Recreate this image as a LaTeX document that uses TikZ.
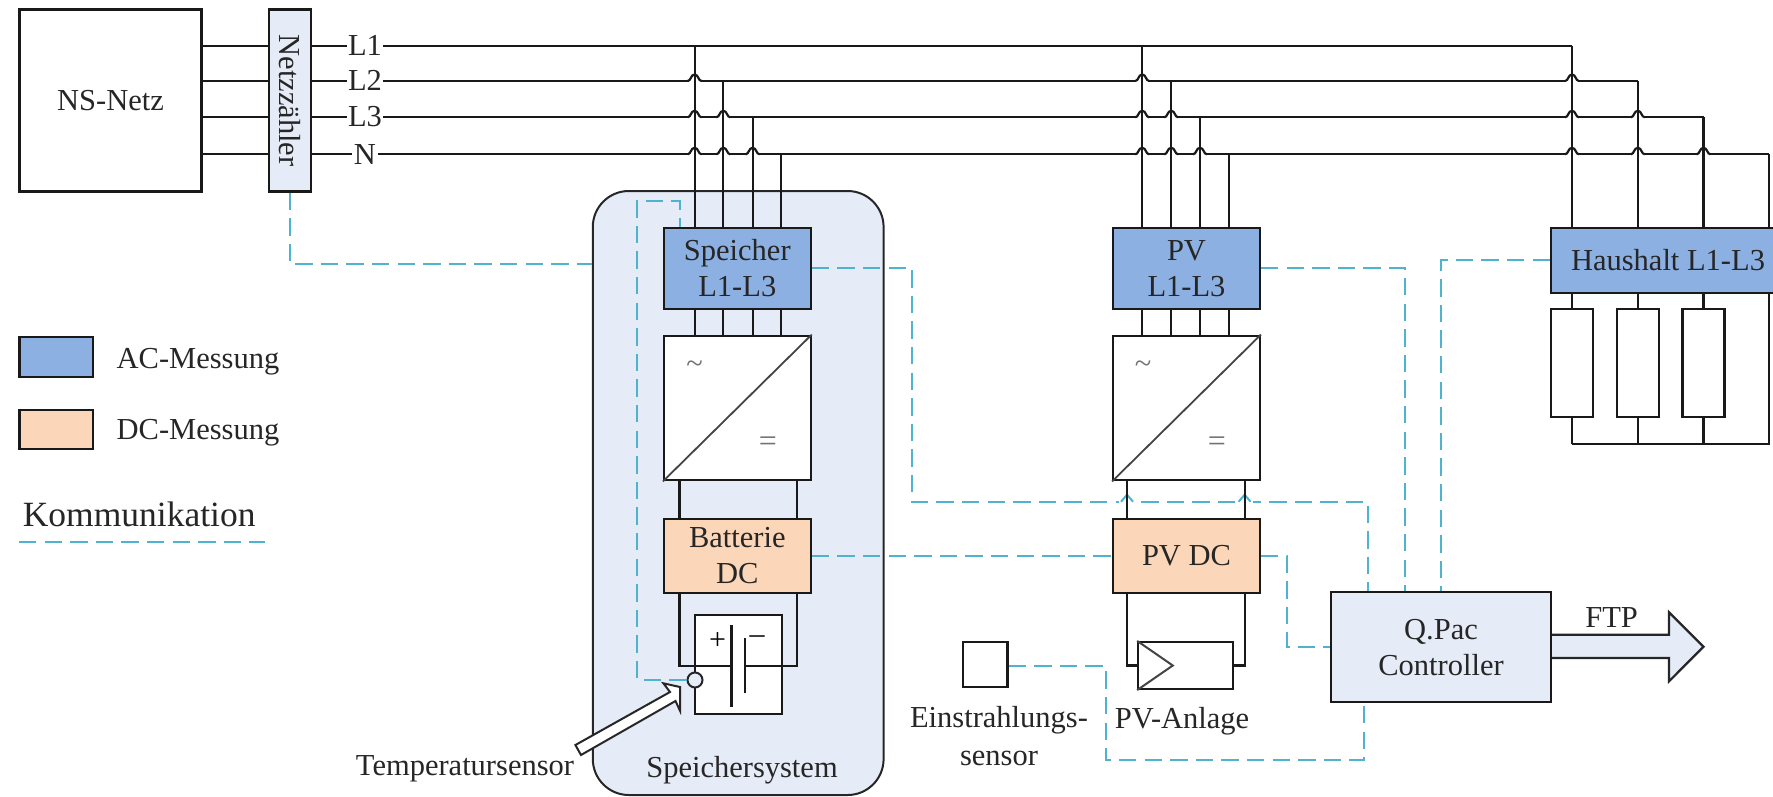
\documentclass[tikz,border=0pt]{standalone}
\usepackage{fontspec}
\setmainfont{Liberation Serif}
\definecolor{acblue}{HTML}{8DB0E3}
\definecolor{dcpeach}{HTML}{FBD6B8}
\definecolor{lightbg}{HTML}{E6ECF7}
\definecolor{comm}{HTML}{4FB3CF}
\definecolor{grayline}{HTML}{444444}
\tikzset{
  txt/.style={font=\fontsize{30.5}{36}\selectfont,inner sep=0pt,align=center,text=black!85},
  bx/.style={draw=black!90,line width=2.2pt,txt,rectangle},
  acbox/.style={bx,fill=acblue},
  dcbox/.style={bx,fill=dcpeach},
  lightbox/.style={bx,fill=lightbg},
  whitebox/.style={bx,fill=white},
  wire/.style={draw=black!90,line width=2.2pt},
  commline/.style={draw=comm,line width=2pt,dash pattern=on 17.4pt off 8.2pt},
  phase/.style={txt,fill=white,inner xsep=1.5pt,inner ysep=0pt},
  symb/.style={txt,text=black!55},
  hopk/.pic={
    \draw[white,line width=3.5pt] (-6,0)--(6,0);
    \draw[black!90,line width=2.2pt] (-7,0) .. controls (-3.5,0) and (-4,-6.5) .. (0,-6.5) .. controls (4,-6.5) and (3.5,0) .. (7,0);
  },
  hopc/.pic={
    \draw[white,line width=3.5pt] (-8,0)--(8,0);
    \draw[comm,line width=2pt] (-6,0) -- (0,-7) -- (6,0);
  },
}
\begin{document}
\begin{tikzpicture}[x=1pt,y=-1pt]
\useasboundingbox (0,0) rectangle (1773,796);
% rows and columns
\coordinate (yL1) at (0,46.3);
\coordinate (yL2) at (0,81);
\coordinate (yL3) at (0,117.3);
\coordinate (yN) at (0,154.3);
\coordinate (xS1) at (694.6,0);
\coordinate (xS2) at (723.3,0);
\coordinate (xS3) at (752.6,0);
\coordinate (xS4) at (781.3,0);
\coordinate (xP1) at (1142.2,0);
\coordinate (xP2) at (1171.2,0);
\coordinate (xP3) at (1200,0);
\coordinate (xP4) at (1229,0);
\coordinate (xH1) at (1572,0);
\coordinate (xH2) at (1637.8,0);
\coordinate (xH3) at (1703.5,0);
\coordinate (xH4) at (1769,0);
\coordinate (xBl) at (679.5,0);
\coordinate (xBr) at (797,0);
\coordinate (xVl) at (1127,0);
\coordinate (xVr) at (1244.6,0);
% storage system background
\node[draw=black!85,line width=2pt,fill=lightbg,rounded corners=36pt,minimum width=290.8pt,minimum height=604pt,inner sep=0pt] (sys) at (738.2,493) {};
% boxes
\node[whitebox,minimum width=182pt,minimum height=182pt] (ns) at (110.5,100.5) {NS-Netz};
\node[acbox,minimum width=146.6pt,minimum height=81.3pt] (sp) at (737.3,268.3) {Speicher\\L1-L3};
\node[acbox,minimum width=146.6pt,minimum height=81.3pt] (pv) at (1186.5,268.3) {PV\\L1-L3};
\node[acbox,minimum width=234pt,minimum height=65.6pt] (ha) at (1668,260.5) {Haushalt L1-L3};
\node[whitebox,minimum width=146.6pt,minimum height=144.6pt] (cs) at (737.3,408) {};
\node[whitebox,minimum width=146.6pt,minimum height=144.6pt] (cp) at (1186.5,408) {};
\node[dcbox,minimum width=146.9pt,minimum height=73.4pt] (bd) at (737.3,556) {Batterie\\DC};
\node[dcbox,minimum width=146.6pt,minimum height=73.4pt] (pd) at (1186.5,556) {PV DC};
\node[whitebox,minimum width=87.2pt,minimum height=99pt] (bat) at (738.4,664.8) {};
\node[whitebox,minimum width=94.7pt,minimum height=47pt] (pan) at (1185.6,665.5) {};
\node[whitebox,minimum width=44.5pt,minimum height=45.3pt] (ir) at (985.2,664.6) {};
\node[lightbox,minimum width=220pt,minimum height=110.3pt] (qp) at (1441,647.1) {Q.Pac\\Controller};
% resistors
\node[whitebox,minimum width=42pt,minimum height=108.3pt] (r1) at (1572,362.8) {};
\node[whitebox,minimum width=42pt,minimum height=108.3pt] (r2) at (1637.8,362.8) {};
\node[whitebox,minimum width=42pt,minimum height=108.3pt] (r3) at (1703.5,362.8) {};
\coordinate (yBus) at (0,444);
% communication lines
\coordinate (yNet) at (0,264);
\coordinate (xIn) at (637,0);
\coordinate (yIn) at (0,200.7);
\coordinate (xInTop) at (680,0);
\coordinate (ySp) at (0,268);
\coordinate (xSp) at (912,0);
\coordinate (ySpL) at (0,501.7);
\coordinate (xQ1) at (1367.7,0);
\coordinate (xQ2) at (1404.5,0);
\coordinate (xQ3) at (1441,0);
\coordinate (yHa) at (0,260);
\coordinate (xPdc) at (1287,0);
\coordinate (xQb) at (1363.8,0);
\coordinate (yQb) at (0,760.3);
\coordinate (xIr) at (1105.5,0);
\coordinate (yIr) at (0,666);
\node[draw=black!85,line width=2pt,fill=lightbg,circle,minimum size=15pt,inner sep=0pt] (ts) at (695,680) {};
\draw[commline] (ts.west) -| (xIn |- yIn) -| (xInTop |- sp.north);
\draw[commline] (sp.east |- ySp) -| (xSp |- ySpL) -| (xQ1 |- qp.north);
\draw[commline] (pv.east |- ySp) -| (xQ2 |- qp.north);
\draw[commline] (ha.west |- yHa) -| (xQ3 |- qp.north);
\draw[commline] (bd.east) -- (pd.west);
\draw[commline] (pd.east) -| (xPdc |- qp.west) -- (qp.west);
\draw[commline] (ir.east |- yIr) -| (xIr |- yQb) -| (xQb |- qp.south);
\foreach \a in {xVl,xVr} \pic at (\a |- ySpL) {hopc};
% mains buses
\draw[wire] (ns.east |- yL1) -- (xH1 |- yL1);
\draw[wire] (ns.east |- yL2) -- (xH2 |- yL2);
\draw[wire] (ns.east |- yL3) -- (xH3 |- yL3);
\draw[wire] (ns.east |- yN) -- (xH4 |- yN);
\foreach \a/\b in {xS1/yL2,xS1/yL3,xS1/yN,xS2/yL3,xS2/yN,xS3/yN,
                   xP1/yL2,xP1/yL3,xP1/yN,xP2/yL3,xP2/yN,xP3/yN,
                   xH1/yL2,xH1/yL3,xH1/yN,xH2/yL3,xH2/yN,xH3/yN}
  \pic at (\a |- \b) {hopk};
% grid meter sits on top of the buses
\node[lightbox,minimum width=42.4pt,minimum height=182pt] (nz) at (289.8,100.5) {\rotatebox{-90}{Netzzähler}};
\draw[commline] (nz.south) |- (sys.west |- yNet);
% drops from bus to meters
\draw[wire] (xS1 |- yL1) -- (xS1 |- sp.north);
\draw[wire] (xS2 |- yL2) -- (xS2 |- sp.north);
\draw[wire] (xS3 |- yL3) -- (xS3 |- sp.north);
\draw[wire] (xS4 |- yN) -- (xS4 |- sp.north);
\draw[wire] (xP1 |- yL1) -- (xP1 |- pv.north);
\draw[wire] (xP2 |- yL2) -- (xP2 |- pv.north);
\draw[wire] (xP3 |- yL3) -- (xP3 |- pv.north);
\draw[wire] (xP4 |- yN) -- (xP4 |- pv.north);
\draw[wire] (xH1 |- yL1) -- (xH1 |- ha.north);
\draw[wire] (xH2 |- yL2) -- (xH2 |- ha.north);
\draw[wire] (xH3 |- yL3) -- (xH3 |- ha.north);
\draw[wire] (xH4 |- yN) -- (xH4 |- ha.north);
% meter to converter
\foreach \a in {xS1,xS2,xS3,xS4} \draw[wire] (\a |- sp.south) -- (\a |- cs.north);
\foreach \a in {xP1,xP2,xP3,xP4} \draw[wire] (\a |- pv.south) -- (\a |- cp.north);
% converter symbols
\draw[grayline,line width=1.8pt] (cs.south west) -- (cs.north east);
\draw[grayline,line width=1.8pt] (cp.south west) -- (cp.north east);
\node[symb] (cs1) at (694.6,367) {\char`\~};
\node[symb] (cp1) at (1143,367) {\char`\~};
\node[symb,font=\fontsize{32}{34}\selectfont] (cs2) at (767.8,444) {=};
\node[symb,font=\fontsize{32}{34}\selectfont] (cp2) at (1216.8,444) {=};
% DC links
\foreach \a in {xBl,xBr} \draw[wire] (\a |- cs.south) -- (\a |- bd.north);
\foreach \a in {xVl,xVr} \draw[wire] (\a |- cp.south) -- (\a |- pd.north);
% battery
\coordinate (yLoop) at (0,666);
\coordinate (xP) at (731.5,0);
\coordinate (xM) at (745,0);
\coordinate (yPa) at (0,625);
\coordinate (yPb) at (0,706.7);
\coordinate (yMa) at (0,638);
\coordinate (yMb) at (0,693);
\draw[wire] (xBl |- bd.south) |- (xP |- yLoop);
\draw[wire] (xBr |- bd.south) |- (xM |- yLoop);
\draw[wire] (xP |- yPa) -- (xP |- yPb);
\draw[wire] (xM |- yMa) -- (xM |- yMb);
\node[txt,font=\fontsize{30}{30}\selectfont,text=black] (plus) at (717.7,641) {+};
\node[txt,font=\fontsize{30}{30}\selectfont,text=black] (minus) at (757,640) {–};
% PV panel
\draw[wire] (xVl |- pd.south) |- (pan.west);
\draw[wire] (xVr |- pd.south) |- (pan.east);
\coordinate (pvtip) at (1172.8,665.5);
\draw[grayline,line width=2pt] (pan.north west) -- (pvtip) -- (pan.south west);
% household loads
\foreach \a/\r in {xH1/r1,xH2/r2,xH3/r3} {
  \draw[wire] (\a |- ha.south) -- (\r.north);
  \draw[wire] (\r.south) -- (\a |- yBus);
}
\draw[wire] (xH1 |- yBus) -- (xH4 |- yBus) -- (xH4 |- ha.south);
% temperature sensor
\draw[draw=black!85,line width=2pt,fill=white,line join=miter] (575.4,745) -- (670,692) -- (663.4,683.3) -- (680,687) -- (680,710.7) -- (675.5,701) -- (581,755) -- cycle;
% FTP arrow
\draw[draw=black!85,line width=2.2pt,fill=lightbg,line join=miter] (qp.east |- 0,634.7) -- (1669,634.7) -- (1669,612.3) -- (1703.5,646.7) -- (1669,681.3) -- (1669,658) -- (qp.east |- 0,658);
% labels
\node[phase] (lL1) at (365,45.8) {L1};
\node[phase] (lL2) at (365,80.5) {L2};
\node[phase] (lL3) at (365,117) {L3};
\node[phase] (lN) at (365,154.3) {N};
\node[txt] (ftp) at (1611.6,618) {FTP};
\node[txt] (tempt) at (465,769) {Temperatursensor};
\node[txt] (syst) at (742,770) {Speichersystem};
\node[txt,font=\fontsize{30.5}{38}\selectfont] (irt) at (999,736) {Einstrahlungs-\\sensor};
\node[txt] (pant) at (1182,721) {PV-Anlage};
% legend
\node[acbox,minimum width=73.5pt,minimum height=39.4pt] (legac) at (56.3,357) {};
\node[dcbox,minimum width=73.5pt,minimum height=39.4pt] (legdc) at (56.3,429.5) {};
\node[txt,anchor=west] (legact) at (116.5,362) {AC-Messung};
\node[txt,anchor=west] (legdct) at (116.5,432.5) {DC-Messung};
\node[txt,anchor=west,font=\fontsize{35.5}{40}\selectfont] (legk) at (22.6,514.5) {Kommunikation};
\coordinate (legl) at (19,542);
\coordinate (legr) at (265,542);
\draw[commline] (legl) -- (legr);
\end{tikzpicture}
\end{document}
